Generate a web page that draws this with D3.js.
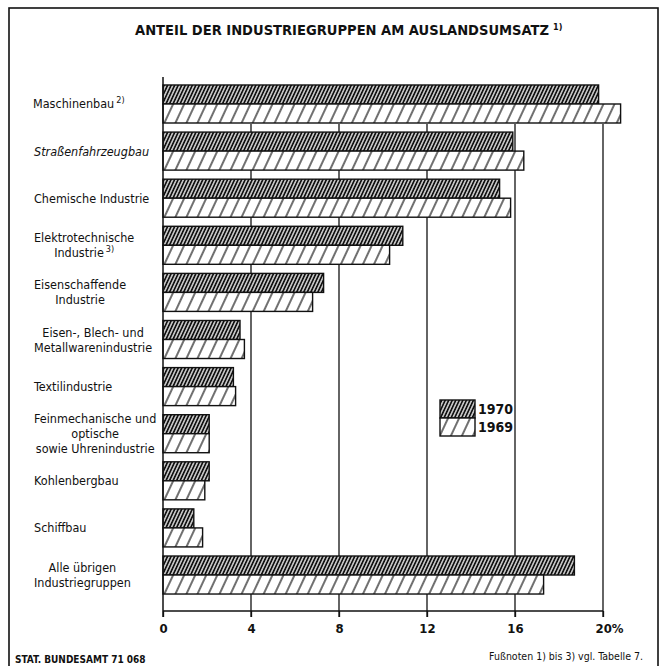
<!DOCTYPE html>
<html><head><meta charset="utf-8">
<script src="https://cdn.jsdelivr.net/npm/d3@7"></script>
<style>
html,body{margin:0;padding:0;background:#fff;}
svg{display:block;}
text{font-family:"Liberation Sans Narrow","DejaVu Sans Condensed",sans-serif;fill:#111;}
</style></head>
<body>
<svg id="c" width="662" height="666"></svg>
<script>
const title = "ANTEIL DER INDUSTRIEGRUPPEN AM AUSLANDSUMSATZ";
const titleNote = "1)";
const categories = [
  "Maschinenbau",
  "Straßenfahrzeugbau",
  "Chemische Industrie",
  "Elektrotechnische|Industrie",
  "Eisenschaffende|Industrie",
  "Eisen-, Blech- und|Metallwarenindustrie",
  "Textilindustrie",
  "Feinmechanische und|optische|sowie Uhrenindustrie",
  "Kohlenbergbau",
  "Schiffbau",
  "Alle übrigen|Industriegruppen"
];
const categoryNotes = ["2)", "", "", "3)", "", "", "", "", "", "", ""];
const italicCats = ["Straßenfahrzeugbau"];
const years = ["1970", "1969"];
const values1970 = [19.8, 15.9, 15.3, 10.9, 7.3, 3.5, 3.2, 2.1, 2.1, 1.4, 18.7];
const values1969 = [20.8, 16.4, 15.8, 10.3, 6.8, 3.7, 3.3, 2.1, 1.9, 1.8, 17.3];
const tickValues = [0, 4, 8, 12, 16, 20];
const tickLabels = ["0", "4", "8", "12", "16", "20%"];
const sourceText = "STAT. BUNDESAMT 71 068";
const footText = "Fußnoten 1) bis 3) vgl. Tabelle 7.";

const svg = d3.select("#c");
const defs = svg.append("defs");
function hatch(id, w, sw) {
  const p = defs.append("pattern").attr("id", id).attr("patternUnits", "userSpaceOnUse")
    .attr("width", w).attr("height", 10).attr("patternTransform", "rotate(25)");
  p.append("rect").attr("width", w).attr("height", 10).attr("fill", "#fff");
  p.append("line").attr("x1", w/2).attr("x2", w/2).attr("y1", 0).attr("y2", 10)
    .attr("stroke", "#111").attr("stroke-width", sw);
}
hatch("h1970", 3.2, 2.0);
hatch("h1969", 10, 1.2);
const fills = {"1970": "url(#h1970)", "1969": "url(#h1969)"};

// frame
svg.append("rect").attr("x", 9).attr("y", 8).attr("width", 649).attr("height", 670)
  .attr("fill", "none").attr("stroke", "#111").attr("stroke-width", 1.6);

// title
const tt = svg.append("text").attr("x", 135).attr("y", 35)
  .attr("font-weight", "bold").attr("font-size", 14);
tt.append("tspan").text(title).attr("textLength", 414).attr("lengthAdjust", "spacingAndGlyphs");
tt.append("tspan").text(titleNote).attr("font-size", 9).attr("dx", 4).attr("dy", -5);

const x = d3.scaleLinear().domain([0, 20]).range([163, 603]);
const y = d3.scaleBand().domain(categories).range([77, 611])
  .paddingInner(0.193).paddingOuter(0.265).align(0.32);
const yi = d3.scaleBand().domain(years).range([0, y.bandwidth()]);

const axisY = 611;
// gridlines
const firstBottom = y(categories[0]) + y.bandwidth() + 1;
svg.append("g").selectAll("line").data(tickValues.filter(d => d > 0)).join("line")
  .attr("x1", d => x(d)).attr("x2", d => x(d))
  .attr("y1", firstBottom).attr("y2", axisY + 6)
  .attr("stroke", "#111").attr("stroke-width", 1.3);

// bars
const rows = categories.map((c, i) => ({c, i, v: {"1970": values1970[i], "1969": values1969[i]}}));
const gr = svg.append("g").selectAll("g").data(rows).join("g")
  .attr("transform", d => `translate(0,${y(d.c)})`);
gr.selectAll("rect").data(d => years.map(yr => ({yr, v: d.v[yr]}))).join("rect")
  .attr("x", x(0)).attr("y", d => yi(d.yr))
  .attr("width", d => x(d.v) - x(0)).attr("height", yi.bandwidth())
  .attr("fill", d => fills[d.yr]).attr("stroke", "#111").attr("stroke-width", 1.4);

// axis
const axis = d3.axisBottom(x).tickValues(tickValues).tickSize(6).tickFormat((d, i) => tickLabels[i]);
const ag = svg.append("g").attr("transform", `translate(0,${axisY})`).call(axis);
ag.select(".domain").attr("d", `M${x(0)},0H${x(20)}`).attr("stroke", "#111").attr("stroke-width", 1.4);
ag.selectAll(".tick line").attr("stroke", "#111").attr("stroke-width", 1.3);
ag.selectAll(".tick text").attr("font-size", 13).attr("font-weight", "bold")
  .attr("font-family", '"Liberation Sans Narrow","DejaVu Sans Condensed",sans-serif')
  .attr("fill", "#111").attr("y", 13)
  .attr("text-anchor", (d) => d === 20 ? "start" : "middle")
  .attr("dx", d => d === 20 ? -8 : 0);
// zero line
svg.append("line").attr("x1", x(0)).attr("x2", x(0)).attr("y1", 77).attr("y2", axisY + 6)
  .attr("stroke", "#111").attr("stroke-width", 1.5);

// category labels
const lh = 15;
rows.forEach(d => {
  const lines = d.c.split("|");
  const cy = y(d.c) + y.bandwidth() / 2;
  const g = svg.append("g");
  const texts = lines.map((ln, k) => {
    const t = g.append("text").attr("font-size", 12.5)
      .attr("y", cy + (k - (lines.length - 1) / 2) * lh + 4.5)
      .attr("font-style", italicCats.includes(d.c) ? "italic" : "normal");
    t.append("tspan").text(ln);
    if (k === lines.length - 1 && categoryNotes[d.i]) {
      t.append("tspan").text(categoryNotes[d.i]).attr("font-size", 9).attr("dx", 2).attr("dy", -5);
    }
    return t;
  });
  const widths = texts.map(t => t.node().getComputedTextLength());
  const mw = d3.max(widths);
  texts.forEach(t => t.attr("x", 34 + mw / 2).attr("text-anchor", "middle"));
});

// legend
const lg = svg.append("g").attr("transform", "translate(440,400)");
years.forEach((yr, k) => {
  lg.append("rect").attr("x", 0).attr("y", k * 18).attr("width", 35).attr("height", 18)
    .attr("fill", fills[yr]).attr("stroke", "#111").attr("stroke-width", 1.4);
  lg.append("text").attr("x", 38).attr("y", k * 18 + 14).attr("font-size", 14)
    .attr("font-weight", "bold").text(yr);
});

// footer
svg.append("text").attr("x", 15).attr("y", 663).attr("font-size", 10).attr("font-weight", "bold").text(sourceText);
svg.append("text").attr("x", 643).attr("y", 660).attr("font-size", 10.5).attr("text-anchor", "end").text(footText);
</script>
</body></html>
